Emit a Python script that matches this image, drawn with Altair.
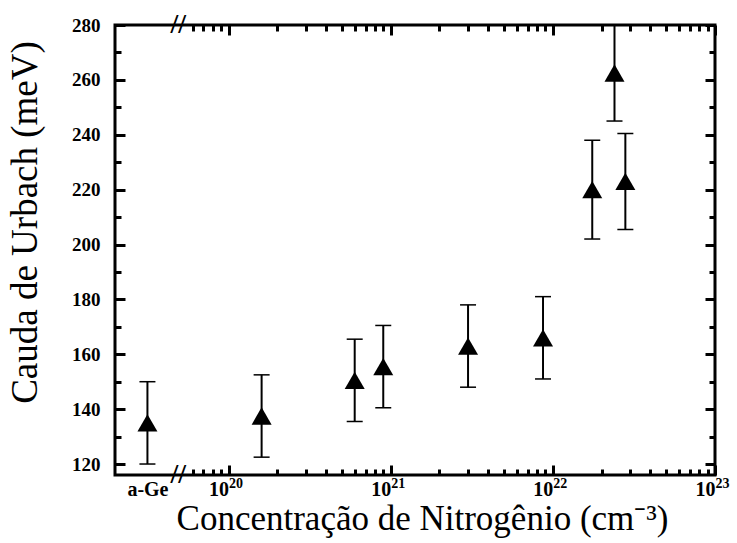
import math

import altair as alt
import pandas as pd

# Cauda de Urbach de filmes a-Ge e a-GeN em função da concentração de nitrogênio
# (None = a-Ge, sem nitrogênio)
concentracao = [None, 1.6e20, 6.0e20, 9.0e20, 3.0e21, 8.7e21, 1.75e22, 2.4e22, 2.8e22]
urbach_mev = [135.0, 137.5, 150.5, 155.5, 163.0, 166.0, 220.0, 262.5, 223.0]
erro_mev = [15, 15, 15, 15, 15, 15, 18, 17.5, 17.5]

# Eixo x em log10(concentração); o a-Ge fica à esquerda de uma quebra do eixo
X_MIN, X_MAX = 19.3, 23.0
POS_A_GE = 19.5
POS_QUEBRA = 19.69
Y_MIN, Y_MAX = 116, 280

x_major = [POS_A_GE, 20, 21, 22, 23]
x_major_rotulos = ["a-Ge", "10", "10", "10", "10"]
x_decadas = [20, 21, 22, 23]
x_expoentes = ["20", "21", "22", "23"]
x_minor = [
    round(d + math.log10(k), 4)
    for d in (19, 20, 21, 22)
    for k in range(2, 10)
    if d + math.log10(k) > POS_QUEBRA + 0.03
]
y_major = list(range(120, 281, 20))
y_minor = list(range(130, 280, 20))

FONTE = "Liberation Serif"
MAIOR, MENOR = 10, 6
TRACO = 3

df = pd.DataFrame({"conc": concentracao, "urbach": urbach_mev, "erro": erro_mev})
df["pos"] = [POS_A_GE if c is None else math.log10(c) for c in concentracao]
df["inf"] = df["urbach"] - df["erro"]
df["sup"] = df["urbach"] + df["erro"]

quebra = pd.DataFrame({"pos": [POS_QUEBRA, POS_QUEBRA], "y": [Y_MIN, Y_MAX]})

escala_x = alt.Scale(domain=[X_MIN, X_MAX], nice=False, zero=False)
escala_y = alt.Scale(domain=[Y_MIN, Y_MAX], nice=False, zero=False)


def expr_rotulos(valores, textos):
    return "".join(f"datum.value == {v} ? '{t}' : " for v, t in zip(valores, textos)) + "''"


def eixo_mudo(orient, valores, tamanho):
    # Eixo só com marcas de escala voltadas para dentro do quadro
    return alt.Axis(
        orient=orient, values=valores, tickSize=tamanho, offset=-tamanho,
        labels=False, title=None, domain=False, grid=False,
        tickColor="black", tickWidth=TRACO,
    )


eixo_x_base = alt.Axis(
    orient="bottom", values=x_major, tickSize=MAIOR, offset=-MAIOR,
    labelExpr=expr_rotulos(x_major, x_major_rotulos), labelFont=FONTE,
    labelFontWeight="bold", labelFontSize=20, labelColor="black", labelPadding=4,
    labelAlign={"condition": {"test": f"datum.value < {POS_QUEBRA}", "value": "center"}, "value": "right"},
    labelOffset=0,
    labelFlush=False, labelOverlap=False, labelBound=False,
    tickOpacity={"condition": {"test": f"datum.value < {POS_QUEBRA}", "value": 0}, "value": 1},
    title="Concentração de Nitrogênio (cm⁻³)", titleFont=FONTE,
    titleFontSize=35, titleFontWeight="normal", titleColor="black",
    titleX=307, titleY=64, titleAlign="center", titleBaseline="alphabetic",
    domain=False, grid=False, tickColor="black", tickWidth=TRACO,
)

# Expoentes das potências de dez, em fonte menor e elevados
eixo_x_expoentes = alt.Axis(
    orient="bottom", values=x_decadas, ticks=False, tickSize=0, domain=False,
    grid=False, labelExpr=expr_rotulos(x_decadas, x_expoentes), labelFont=FONTE,
    labelFontWeight="bold", labelFontSize=14, labelColor="black", labelPadding=1,
    labelAlign="left", labelOffset=0, labelFlush=False, labelOverlap=False,
    labelBound=False, title=None,
)

eixo_y_base = alt.Axis(
    orient="left", values=y_major, tickSize=MAIOR, offset=-MAIOR,
    labelFont=FONTE, labelFontWeight="bold", labelFontSize=19,
    labelColor="black", labelPadding=15, labelFlush=False,
    title="Cauda de Urbach (meV)", titleFont=FONTE, titleFontSize=37,
    titleFontWeight="normal", titleColor="black", titleAngle=270,
    titleX=-100, titleY=197, titleAlign="center", titleBaseline="middle",
    domain=False, grid=False, tickColor="black", tickWidth=TRACO,
)

barras = alt.Chart(df).mark_rule(color="black", strokeWidth=2).encode(
    x=alt.X("pos:Q", scale=escala_x, axis=eixo_x_base),
    y=alt.Y("inf:Q", scale=escala_y, axis=eixo_y_base),
    y2="sup:Q",
)

tracos = alt.Chart(df).transform_fold(["inf", "sup"], as_=["lado", "valor"]).mark_tick(
    orient="horizontal", size=16, thickness=1.5, color="black", opacity=1
).encode(
    x=alt.X("pos:Q", scale=escala_x, axis=eixo_mudo("bottom", x_minor, MENOR)),
    y=alt.Y("valor:Q", scale=escala_y, axis=eixo_mudo("left", y_minor, MENOR)),
)

pontos = alt.Chart(df).mark_point(
    shape="triangle-up", size=400, filled=True, color="black", opacity=1
).encode(
    x=alt.X("pos:Q", scale=escala_x, axis=eixo_mudo("top", x_major[1:], MAIOR)),
    y=alt.Y("urbach:Q", scale=escala_y, axis=eixo_mudo("right", y_major, MAIOR)),
)

marcas_quebra = alt.Chart(quebra).mark_text(
    text="//", font=FONTE, fontSize=28, fontWeight="bold", color="black"
).encode(
    x=alt.X("pos:Q", scale=escala_x, axis=eixo_mudo("top", x_minor, MENOR)),
    y=alt.Y("y:Q", scale=escala_y, axis=eixo_mudo("right", y_minor, MENOR)),
)

expoentes = alt.Chart(df).mark_point(opacity=0).encode(
    x=alt.X("pos:Q", scale=escala_x, axis=eixo_x_expoentes),
    y=alt.Y("urbach:Q", scale=escala_y, axis=None),
)

chart = (
    alt.layer(barras, tracos, pontos, marcas_quebra, expoentes)
    .resolve_axis(x="independent", y="independent")
    .properties(
        width=600,
        height=450,
        autosize=alt.AutoSizeParams(type="none"),
        padding={"left": 115, "top": 25, "right": 22, "bottom": 68},
        background="white",
    )
    .configure_view(stroke="black", strokeWidth=3)
)

chart.save("out.html", embed_options={"renderer": "svg", "actions": False})
